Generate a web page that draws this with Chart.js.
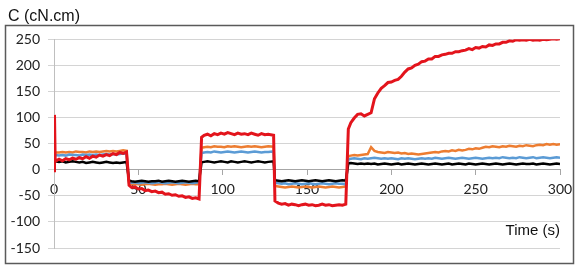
<!DOCTYPE html>
<html>
<head>
<meta charset="utf-8">
<script src="https://cdn.jsdelivr.net/npm/chart.js@4.4.0/dist/chart.umd.min.js"></script>
<style>
  body { margin: 0; background: #fff; }
  #chart { display: block; }
</style>
</head>
<body>
<canvas id="chart" width="581" height="266"></canvas>
<script>
// time (s), one row per step of the test
var time = [
  0, 0.3, 0.7, 3, 5, 7, 9, 11, 13, 15, 17, 19, 21, 23, 25, 27, 29, 31, 33, 35, 37, 39, 41, 43,
  44.5, 46, 48, 50, 52, 54, 56, 58, 60, 62, 64, 66, 68, 70, 72, 74, 76, 78, 80, 82, 84, 86,
  87.5, 89, 91, 93, 95, 97, 99, 101, 103, 105, 107, 109, 111, 113, 115, 117, 119, 121, 123, 125, 127, 130.2,
  131, 133, 135, 137, 139, 141, 143, 145, 147, 149, 151, 153, 155, 157, 159, 161, 163, 165, 167, 169, 171, 173,
  174.5, 176, 178, 180, 182, 184, 186, 188,
  190, 192, 194, 196, 198, 200,
  202, 204, 206, 208, 210, 212, 214, 216, 218, 220,
  222, 224, 226, 228, 230, 232, 234, 236, 238, 240,
  242, 244, 246, 248, 250, 252, 254, 256, 258, 260,
  262, 264, 266, 268, 270, 272, 274, 276, 278, 280,
  282, 284, 286, 288, 290, 292, 294, 296, 298, 300
];

var red = [
  -2, 105, 16, 20, 17, 21, 19, 22, 20, 23, 21, 25, 22, 26, 24, 28, 26, 29, 27, 31, 29, 33, 31, 34,
  -30, -34, -33, -37, -36, -40, -39, -42, -41, -44, -43, -47, -46, -49, -48, -51, -50, -53, -52, -55, -54, -56,
  62, 66, 68, 65, 69, 67, 70, 68, 71, 69, 67, 70, 68, 69, 67, 70, 68, 66, 69, 67, 68, 66,
  -60, -64, -66, -65, -68, -66, -67, -69, -67, -66, -68, -67, -69, -68, -66, -68, -67, -69, -68, -67, -68, -66,
  78, 90, 99, 106, 107, 103, 106, 109,
  136, 147, 156, 161, 167, 168,
  171, 173, 179, 187, 193, 195, 200, 202, 207, 208,
  212, 212, 217, 217, 220, 221, 223, 223, 226, 226,
  228, 229, 232, 230, 234, 233, 236, 235, 239, 238,
  241, 241, 244, 244, 247, 246, 249, 248, 249, 248,
  250, 248, 249, 248, 250, 249, 250, 251, 250, 251
];

var orange = [
  30, 32, 33, 33, 34, 33, 34, 33, 35, 34, 34, 33, 35, 34, 35, 34, 35, 36, 35, 36, 35, 36, 37, 36,
  -26, -28, -27, -28, -29, -28, -27, -28, -29, -28, -28, -27, -28, -29, -28, -27, -28, -29, -28, -27, -28, -28,
  42, 43, 44, 43, 45, 44, 44, 43, 45, 44, 45, 44, 43, 44, 45, 44, 45, 44, 43, 44, 45, 44,
  -31, -32, -33, -34, -33, -32, -33, -34, -33, -32, -33, -34, -33, -32, -33, -34, -33, -32, -33, -34, -33, -32,
  26, 27, 28, 27, 28, 29, 30, 43,
  36, 34, 33, 32, 34, 33,
  32, 33, 31, 32, 30, 31, 30, 29, 30, 31,
  32, 33, 34, 33, 35, 36, 35, 37, 36, 38,
  37, 38, 40, 39, 41, 40, 42, 44, 43, 45,
  44, 43, 45, 44, 46, 45, 44, 46, 45, 47,
  46, 45, 47, 48, 47, 49, 48, 49, 48, 49
];

var blue = [
  27, 28, 28, 27, 28, 27, 29, 28, 28, 27, 29, 28, 29, 28, 29, 28, 29, 30, 29, 30, 29, 30, 31, 30,
  -24, -25, -24, -26, -25, -24, -25, -26, -25, -24, -25, -26, -25, -24, -25, -26, -25, -24, -25, -26, -25, -24,
  32, 33, 34, 33, 35, 34, 33, 34, 35, 34, 33, 34, 35, 34, 33, 34, 35, 34, 33, 34, 34, 35,
  -25, -26, -27, -26, -28, -27, -26, -27, -28, -27, -26, -27, -28, -27, -26, -27, -28, -27, -26, -27, -27, -28,
  20, 21, 22, 21, 20, 22, 21, 22,
  23, 22, 21, 22, 21, 22,
  21, 20, 22, 21, 22, 21, 20, 21, 22, 21,
  22, 21, 23, 22, 21, 22, 23, 22, 21, 22,
  23, 22, 21, 22, 23, 22, 21, 22, 23, 22,
  23, 22, 24, 23, 22, 23, 22, 24, 23, 22,
  23, 24, 22, 23, 24, 23, 22, 23, 24, 23
];

var black = [
  14, 16, 16, 15, 16, 14, 15, 16, 15, 14, 15, 13, 14, 15, 14, 13, 14, 15, 14, 13, 14, 13, 14, 15,
  -21, -22, -23, -22, -21, -22, -23, -22, -22, -21, -23, -22, -21, -22, -23, -22, -21, -22, -23, -22, -21, -22,
  14, 15, 16, 15, 14, 15, 16, 15, 14, 16, 15, 14, 15, 16, 15, 14, 15, 16, 15, 14, 15, 16,
  -20, -21, -22, -21, -20, -21, -22, -21, -20, -21, -22, -21, -20, -21, -22, -21, -20, -21, -22, -21, -20, -21,
  12, 13, 12, 11, 12, 11, 12, 11,
  12, 10, 11, 12, 11, 10,
  11, 12, 10, 11, 12, 11, 10, 11, 12, 11,
  10, 11, 12, 11, 10, 11, 12, 10, 11, 12,
  11, 10, 12, 11, 10, 11, 12, 11, 10, 11,
  12, 11, 10, 11, 12, 11, 10, 11, 12, 11,
  11, 12, 10, 11, 12, 11, 10, 11, 12, 11
];

var xTicks = [0, 50, 100, 150, 200, 250, 300];
var yTicks = [-150, -100, -50, 0, 50, 100, 150, 200, 250];
var yTitle = 'C (cN.cm)';
var xTitle = 'Time (s)';

var toPoints = (values) => values.map((v, i) => ({ x: time[i], y: v }));

// frame round the whole chart + the "Time (s)" label inside the plot
var framePlugin = {
  id: 'frame',
  beforeDraw: (chart) => {
    var ctx = chart.ctx;
    ctx.save();
    ctx.fillStyle = '#fff';
    ctx.fillRect(0, 0, chart.width, chart.height);
    ctx.restore();
  },
  afterDraw: (chart) => {
    var ctx = chart.ctx;
    var xs = chart.scales.x;
    var ys = chart.scales.y;
    ctx.save();
    ctx.strokeStyle = '#5a5a5a';
    ctx.lineWidth = 1.5;
    ctx.strokeRect(5.5, 25.5, 568, 238);
    ctx.fillStyle = '#111';
    ctx.font = '15px "Liberation Sans"';
    ctx.textAlign = 'right';
    ctx.textBaseline = 'alphabetic';
    ctx.fillText(xTitle, xs.getPixelForValue(300), ys.getPixelForValue(-125));
    ctx.restore();
  }
};

var tickFont = { family: 'Lato', size: 14 };

new Chart(document.getElementById('chart'), {
  type: 'line',
  data: {
    datasets: [
      { data: toPoints(red), borderColor: '#e3141c', borderWidth: 3 },
      { data: toPoints(black), borderColor: '#000000' },
      { data: toPoints(blue), borderColor: '#5b9bd5' },
      { data: toPoints(orange), borderColor: '#ed7d31' }
    ]
  },
  options: {
    responsive: false,
    animation: false,
    layout: { padding: { left: 8, right: 21, top: 0, bottom: 18 } },
    elements: {
      point: { radius: 0 },
      line: { borderWidth: 2.5, tension: 0 }
    },
    plugins: {
      legend: { display: false },
      tooltip: { enabled: false },
      title: {
        display: true,
        text: yTitle,
        align: 'start',
        color: '#111',
        font: { family: 'Liberation Sans', size: 16, weight: 'normal' },
        padding: { top: 7, bottom: 13 }
      }
    },
    scales: {
      x: {
        type: 'linear',
        position: { y: 0 },
        min: 0,
        max: 300,
        afterFit: (s) => { s.height = 0; },
        afterBuildTicks: (s) => { s.ticks = xTicks.map(v => ({ value: v })); },
        grid: { drawOnChartArea: false, drawTicks: true, tickLength: 5, color: '#a6a6a6' },
        border: { color: '#a6a6a6' },
        ticks: { padding: 6, color: '#222', font: tickFont, maxRotation: 0, autoSkip: false }
      },
      y: {
        min: -150,
        max: 250,
        afterFit: (s) => { s.width = 46; },
        afterBuildTicks: (s) => { s.ticks = yTicks.map(v => ({ value: v })); },
        grid: { color: '#d4d4d4', tickLength: 6 },
        border: { color: '#bfbfbf' },
        ticks: { padding: 8, color: '#222', font: tickFont }
      }
    }
  },
  plugins: [framePlugin]
});
</script>
</body>
</html>
